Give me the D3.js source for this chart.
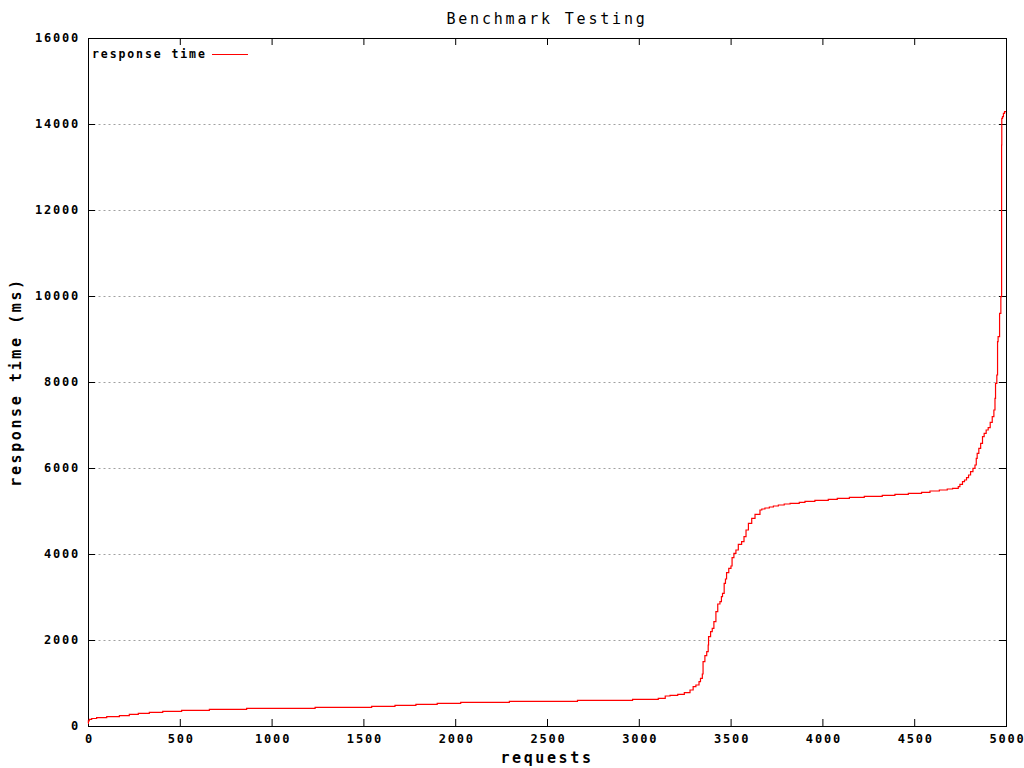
<!DOCTYPE html>
<html>
<head>
<meta charset="utf-8">
<script src="https://cdn.jsdelivr.net/npm/d3@7"></script>
<style>
  html, body { margin: 0; padding: 0; background: #fff; }
  svg { display: block; }
  text { font-family: "DejaVu Sans Mono", monospace; fill: #000; }
</style>
</head>
<body>
<svg id="chart" width="1024" height="768"></svg>
<script>
const chartTitle = "Benchmark Testing";
const xLabel = "requests";
const yLabel = "response time (ms)";
const seriesName = "response time";
const xTicks = [0, 500, 1000, 1500, 2000, 2500, 3000, 3500, 4000, 4500, 5000];
const yTicks = [0, 2000, 4000, 6000, 8000, 10000, 12000, 14000, 16000];

const requests = [
  0, 2, 7, 20, 47, 102, 171, 225, 274, 334,
  407, 510, 661, 864, 1237, 1545, 1672, 1786, 1902, 2030,
  2295, 2666, 2966, 3106, 3144, 3170, 3212, 3248, 3279, 3296,
  3311, 3328, 3336, 3346, 3350, 3360, 3370, 3378, 3380, 3391,
  3400, 3409, 3420, 3430, 3442, 3450, 3456, 3465, 3472, 3478,
  3490, 3502, 3508, 3518, 3529, 3542, 3560, 3573, 3584, 3597,
  3615, 3633, 3660, 3670, 3687, 3711, 3733, 3760, 3792, 3824,
  3874, 3905, 3959, 4032, 4081, 4147, 4228, 4326, 4395, 4468,
  4540, 4586, 4637, 4680, 4709, 4740, 4749, 4763, 4774, 4785,
  4796, 4807, 4820, 4831, 4838, 4843, 4852, 4862, 4872, 4881,
  4892, 4903, 4914, 4925, 4934, 4940, 4943, 4950, 4954, 4957,
  4965, 4972, 4976, 4977, 4981, 4986, 4992, 5000];
const responseTime = [
  63, 120, 155, 175, 194, 217, 240, 271, 295, 318,
  341, 364, 388, 411, 434, 458, 481, 504, 527, 550,
  574, 597, 620, 644, 698, 713, 736, 775, 837, 915,
  953, 1031, 1109, 1209, 1496, 1635, 1728, 1884, 2077, 2193,
  2270, 2426, 2658, 2837, 2891, 3007, 3085, 3318, 3419, 3565,
  3667, 3721, 3914, 4016, 4093, 4225, 4286, 4402, 4558, 4713,
  4830, 4923, 5023, 5047, 5070, 5093, 5116, 5140, 5163, 5178,
  5202, 5225, 5248, 5272, 5295, 5318, 5341, 5365, 5388, 5411,
  5434, 5465, 5488, 5512, 5527, 5566, 5620, 5682, 5721, 5775,
  5837, 5915, 5992, 6070, 6225, 6341, 6458, 6574, 6729, 6806,
  6884, 6938, 7063, 7194, 7349, 7620, 7969, 8163, 8938, 9054,
  9597, 9984, 13512, 14132, 14171, 14248, 14287, 14287];

const svg = d3.select("#chart");
const L = 88, R = 1006, T = 38, B = 726;
const x = d3.scaleLinear().domain([0, 5000]).range([L, R]);
const y = d3.scaleLinear().domain([0, 16000]).range([B, T]);
const tickLen = 7;

// grid lines
svg.append("g").selectAll("line")
  .data(yTicks.filter(v => v > 0 && v < 16000))
  .join("line")
  .attr("x1", L + 0.5).attr("x2", R - tickLen)
  .attr("y1", d => Math.round(y(d)) + 0.5).attr("y2", d => Math.round(y(d)) + 0.5)
  .attr("stroke", "#a0a0a0").attr("stroke-width", 1)
  .attr("stroke-dasharray", "2,3");

// axes with inward ticks
const fmt = d3.format("d");
const tickStyle = g => {
  g.select(".domain").remove();
  g.selectAll(".tick line").attr("stroke", "#000").attr("stroke-width", 1);
  g.selectAll(".tick text")
    .style("font-size", "12px").style("font-weight", "bold").style("letter-spacing", "1.8px");
};
svg.append("g").attr("transform", `translate(0,${B})`)
  .call(d3.axisBottom(x).tickValues(xTicks).tickFormat(fmt).tickSizeInner(-tickLen).tickSizeOuter(0).tickPadding(8))
  .call(tickStyle)
  .selectAll(".tick text").attr("dx", "1px");
svg.append("g").attr("transform", `translate(0,${T})`)
  .call(d3.axisTop(x).tickValues(xTicks).tickFormat("").tickSizeInner(-tickLen).tickSizeOuter(0))
  .call(tickStyle);
svg.append("g").attr("transform", `translate(${L},0)`)
  .call(d3.axisLeft(y).tickValues(yTicks).tickFormat(fmt).tickSizeInner(-tickLen).tickSizeOuter(0).tickPadding(8))
  .call(tickStyle);
svg.append("g").attr("transform", `translate(${R},0)`)
  .call(d3.axisRight(y).tickValues(yTicks).tickFormat("").tickSizeInner(-tickLen).tickSizeOuter(0))
  .call(tickStyle);

// border
svg.append("rect")
  .attr("x", L + 0.5).attr("y", T + 0.5)
  .attr("width", R - L).attr("height", B - T)
  .attr("fill", "none").attr("stroke", "#000").attr("stroke-width", 1);

// data line (stair-like, as the sorted samples are drawn)
const n = Math.min(requests.length, responseTime.length);
const pts = d3.range(n).map(i => [requests[i], responseTime[i]]);
svg.append("path")
  .datum(pts)
  .attr("fill", "none").attr("stroke", "#ff0000").attr("stroke-width", 1.2)
  .attr("d", d3.line().curve(d3.curveStepAfter).x(d => x(d[0])).y(d => y(d[1])));

// title & labels
svg.append("text").attr("x", (L + R) / 2).attr("y", 19)
  .attr("text-anchor", "middle").attr("dominant-baseline", "central")
  .style("font-size", "15px").style("letter-spacing", "2.8px")
  .text(chartTitle);
svg.append("text").attr("x", (L + R) / 2).attr("y", 758)
  .attr("text-anchor", "middle").attr("dominant-baseline", "central")
  .style("font-size", "15px").style("font-weight", "bold").style("letter-spacing", "2.6px")
  .text(xLabel);
svg.append("text").attr("transform", `translate(16,${(T + B) / 2}) rotate(-90)`)
  .attr("text-anchor", "middle").attr("dominant-baseline", "central")
  .style("font-size", "15px").style("font-weight", "bold").style("letter-spacing", "2.6px")
  .text(yLabel);

// legend
svg.append("text").attr("x", 92).attr("y", 54)
  .attr("dominant-baseline", "central")
  .style("font-size", "11.5px").style("font-weight", "bold").style("letter-spacing", "1.9px")
  .text(seriesName);
svg.append("line").attr("x1", 212).attr("x2", 248).attr("y1", 54.5).attr("y2", 54.5)
  .attr("stroke", "#ff0000").attr("stroke-width", 1);
</script>
</body>
</html>
